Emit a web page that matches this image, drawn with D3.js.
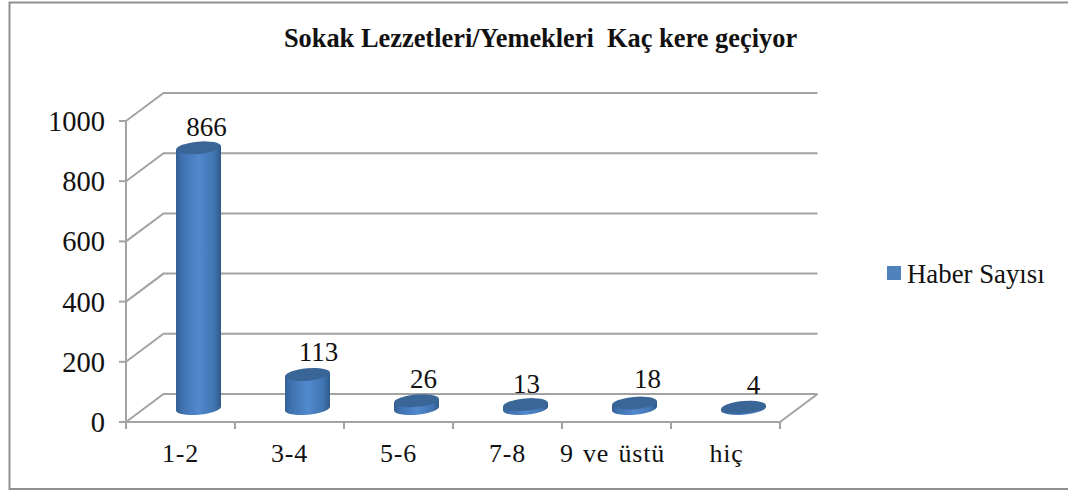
<!DOCTYPE html>
<html><head><meta charset="utf-8">
<script src="https://cdn.jsdelivr.net/npm/d3@7"></script>
<style>html,body{margin:0;background:#fff}svg{display:block}text{font-family:"Liberation Serif",serif;fill:#111}</style>
</head><body><svg id="c" width="1068" height="491"></svg>
<script>
const categories=["1-2","3-4","5-6","7-8","9 ve üstü","hiç"];
const values=[866,113,26,13,18,4];
const yTicks=[0,200,400,600,800,1000];
const titleText="Sokak Lezzetleri/Yemekleri  Kaç kere geçiyor";
const legendText="Haber Sayısı";

const svg=d3.select("#c");
const defs=svg.append("defs");
const grad=defs.append("linearGradient").attr("id","cyl").attr("x1",0).attr("x2",1).attr("y1",0).attr("y2",0);
[[0,"#325f95"],[0.12,"#3e70ad"],[0.5,"#5289ce"],[0.85,"#4175b2"],[1,"#2f5a8a"]].forEach(([o,c])=>grad.append("stop").attr("offset",o).attr("stop-color",c));

svg.append("path").attr("d",d3.line()([[1068,2.5],[9.5,2.5],[9.5,489],[1068,489]])).attr("fill","none").attr("stroke","#8f8f8f").attr("stroke-width",2);

const dx=37.5,dy=-28;
const x=d3.scaleBand().domain(categories).range([126,780]);
const y=d3.scaleLinear().domain([0,1000]).range([422,121]);
const grey="#a3a3a3";
const g=svg.append("g").attr("fill","none").attr("stroke",grey).attr("stroke-width",2);

yTicks.forEach(t=>{
  g.append("path").attr("d",d3.line()([[x.range()[0],y(t)],[x.range()[0]+dx,y(t)+dy],[x.range()[1]+dx,y(t)+dy]]));
  g.append("line").attr("x1",119).attr("x2",126).attr("y1",y(t)).attr("y2",y(t));
});
g.append("line").attr("x1",126).attr("x2",126).attr("y1",y(1000)).attr("y2",y(0));
g.append("line").attr("x1",126).attr("x2",780).attr("y1",y(0)).attr("y2",y(0));
g.append("line").attr("x1",780).attr("x2",780+dx).attr("y1",y(0)).attr("y2",y(0)+dy);
const tickXs=categories.map(c=>x(c)).concat([x.range()[1]]);
tickXs.forEach(t=>g.append("line").attr("x1",t).attr("x2",t).attr("y1",y(0)).attr("y2",y(0)+7));

svg.append("g").selectAll("text").data(yTicks).join("text")
  .attr("x",105).attr("y",d=>y(d)+10).attr("text-anchor","end").attr("font-size",28.5).text(d=>d);
const labelShift=[0,0,0,0,-4,1];
svg.append("g").selectAll("text").data(categories).join("text")
  .attr("x",(d,i)=>x(d)+x.bandwidth()/2+labelShift[i]).attr("y",462).attr("text-anchor","middle").attr("font-size",26).attr("letter-spacing",0.8).attr("word-spacing",2).text(d=>d);

const bx=d3.scaleBand().domain(categories).range([144,798]);
const by=d3.scaleLinear().domain([0,1000]).range([408.5,107.5]);
const rx=22.5,ry=6.2,tilt=-5;
const k=Math.tan(tilt*Math.PI/180);
const valueShiftX=[8,11,7,1,13,10];
const valueShiftY=[12,13,13,12,15,13];
const bars=svg.append("g").selectAll("g").data(categories).join("g");
bars.each(function(c,i){
  const s=d3.select(this),cx=bx(c)+bx.bandwidth()/2,top=by(values[i]),base=by(0);
  const off=rx*k;
  s.append("path").attr("fill","url(#cyl)")
   .attr("d",`M${cx-rx},${base-off}L${cx-rx},${top-off}L${cx+rx},${top+off}L${cx+rx},${base+off}A${rx},${ry} ${tilt} 0 1 ${cx-rx},${base-off}Z`);
  s.append("ellipse").attr("cx",cx).attr("cy",top).attr("rx",rx).attr("ry",ry)
   .attr("transform",`rotate(${tilt} ${cx} ${top})`).attr("fill","#3a6597");
  s.append("text").attr("x",cx+valueShiftX[i]).attr("y",top-valueShiftY[i]).attr("text-anchor","middle").attr("font-size",27).text(values[i]);
});

svg.append("text").attr("x",540.5).attr("y",47).attr("text-anchor","middle").attr("font-size",26.4).attr("font-weight","bold").style("white-space","pre").text(titleText);
svg.append("rect").attr("x",887).attr("y",266).attr("width",14).attr("height",14).attr("fill","#4f81bd");
svg.append("text").attr("x",907).attr("y",283).attr("font-size",26.8).text(legendText);
</script></body></html>
